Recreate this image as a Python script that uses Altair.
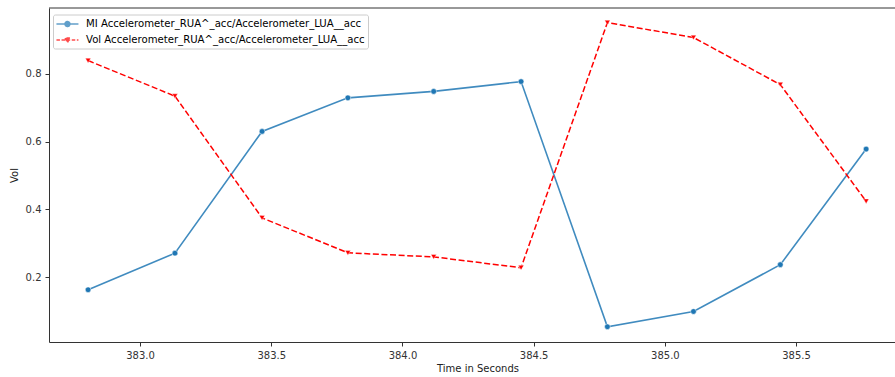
import altair as alt
import pandas as pd

# ---- data ----
time_s = [382.802, 383.133, 383.465, 383.792, 384.119, 384.452, 384.781, 385.109, 385.440, 385.767]
mi_vals = [0.163, 0.271, 0.630, 0.729, 0.748, 0.777, 0.054, 0.099, 0.237, 0.578]
vol_vals = [0.839, 0.734, 0.375, 0.272, 0.260, 0.228, 0.951, 0.907, 0.768, 0.424]
series_names = [
    "MI Accelerometer_RUA^_acc/Accelerometer_LUA__acc",
    "Vol Accelerometer_RUA^_acc/Accelerometer_LUA__acc",
]
x_ticks = [383.0, 383.5, 384.0, 384.5, 385.0, 385.5]
y_ticks = [0.2, 0.4, 0.6, 0.8]

BLUE = "#1f77b4"
RED = "#ff0000"

df = pd.DataFrame({
    "t": time_s + time_s,
    "v": mi_vals + vol_vals,
    "s": [series_names[0]] * len(time_s) + [series_names[1]] * len(time_s),
})

W, H = 846, 334
FONT = "DejaVu Sans"

xs = alt.Scale(domain=[382.653, 385.877], nice=False, zero=False)
ys = alt.Scale(domain=[0.009, 0.994], nice=False, zero=False)

xenc = alt.X("t:Q", scale=xs, axis=alt.Axis(values=x_ticks, format=".1f", title="Time in Seconds",
                                             titleX=428.5, titlePadding=3))
yenc = alt.Y("v:Q", scale=ys, axis=alt.Axis(values=y_ticks, format=".1f", title="Vol", titlePadding=6))

base = alt.Chart(df)
mi = base.transform_filter(alt.datum.s == series_names[0])
vol = base.transform_filter(alt.datum.s == series_names[1])

mi_line = mi.mark_line(color=BLUE, strokeWidth=1.6, opacity=0.85).encode(x=xenc, y=yenc)
mi_pts = mi.mark_point(filled=True, shape="circle", size=32, fill=BLUE, stroke="white",
                       strokeWidth=0.5, opacity=1).encode(x=xenc, y=yenc)
vol_line = vol.mark_line(color=RED, strokeWidth=1.5, strokeDash=[6, 2.6]).encode(x=xenc, y=yenc)
vol_pts = vol.mark_point(filled=True, shape="triangle-down", size=30, fill=RED, stroke="white",
                         strokeWidth=0.4, opacity=1).encode(x=xenc, y=yenc)

# legend symbols: line with marker in the middle
path_mi = "M-1.1,0L2.9,0M1.35,0A0.45,0.45,0,1,1,0.45,0A0.45,0.45,0,1,1,1.35,0Z"
path_vol = "M1.35,-0.35L0.45,-0.35L0.9,0.45Z M-1.1,0L2.9,0"

leg_scale = alt.Scale(domain=series_names, range=[BLUE, RED])
legend_layer = base.transform_filter("false").mark_point(filled=True).encode(
    color=alt.Color("s:N", scale=leg_scale, title=None),
    stroke=alt.Stroke("s:N", scale=leg_scale, title=None),
    shape=alt.Shape("s:N", scale=alt.Scale(domain=series_names, range=[path_mi, path_vol]), title=None),
    strokeDash=alt.StrokeDash("s:N", scale=alt.Scale(domain=series_names, range=[[1, 0], [3.5, 1.6]]),
                              title=None),
)

top_spine = alt.Chart(pd.DataFrame({"k": [0]})).mark_rule(color="#333333", strokeWidth=1).encode(
    x=alt.value(0), x2=alt.value(W), y=alt.value(0)
)

chart = alt.layer(mi_line, mi_pts, vol_line, vol_pts, legend_layer, top_spine).properties(
    width=W, height=H,
    autosize=alt.AutoSizeParams(type="none"),
    padding={"left": 49, "top": 8, "right": 0, "bottom": 35},
).configure_view(stroke=None).configure_axis(
    grid=False,
    domainColor="#333333", domainWidth=1,
    tickColor="#333333", tickSize=4, tickWidth=1,
    labelFont=FONT, labelFontSize=10, labelColor="#333333", labelPadding=4,
    titleFont=FONT, titleFontSize=10, titleColor="#222222", titleFontWeight="normal",
).configure_legend(
    orient="none", legendX=4, legendY=6.5,
    padding=3, fillColor="white", strokeColor="#cccccc", cornerRadius=2,
    labelFont=FONT, labelFontSize=10.15, labelColor="#000000", labelOffset=17, labelLimit=500,
    symbolSize=121, symbolStrokeWidth=1.5, rowPadding=4,
)

chart.save("out.html", embed_options={"renderer": "svg", "actions": False})
